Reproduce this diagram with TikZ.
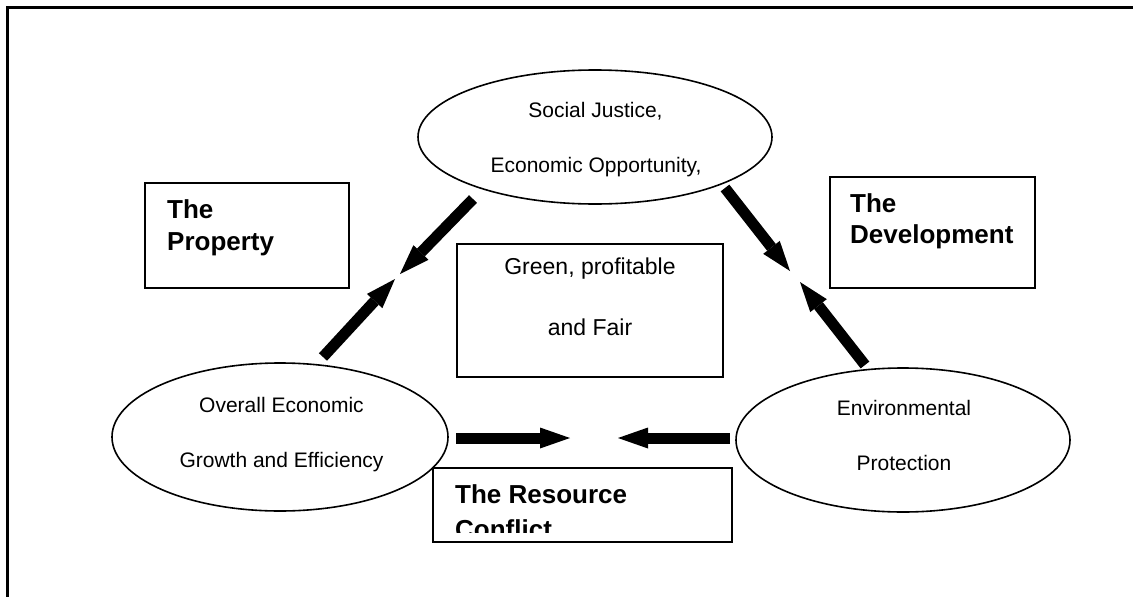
\documentclass[tikz,border=0pt]{standalone}
\usepackage{fontspec}
\setmainfont{Liberation Sans}
\usetikzlibrary{arrows.meta,shapes.geometric}
\begin{document}
\begin{tikzpicture}[x=1pt,y=-1pt,
  ell/.style={draw, ellipse, line width=1.6pt, inner sep=0pt},
  boxnode/.style={draw, rectangle, line width=1.8pt, inner sep=0pt},
  eltext/.style={inner sep=0pt, anchor=base, font=\fontsize{21}{25}\selectfont},
  cbtext/.style={inner sep=0pt, anchor=base, font=\fontsize{23}{27}\selectfont},
  bold/.style={inner sep=0pt, anchor=base west, font=\fontsize{26}{30}\selectfont\bfseries},
  blockarrow/.style={line width=11pt, -{Triangle[length=30pt,width=21pt,line width=0pt]}}
]
\useasboundingbox (0,0) rectangle (1133,597);
% frame
\draw[line width=3pt] (7.5,597) -- (7.5,7.5) -- (1133,7.5);

% ellipses
\node[ell, minimum width=354pt, minimum height=134pt] (soc) at (595,137) {};
\node[ell, minimum width=336pt, minimum height=148pt] (eco) at (280,437) {};
\node[ell, minimum width=334pt, minimum height=144pt] (env) at (903,440) {};

\node[eltext] (soc1) at (595.5,117) {Social Justice,};
\node[eltext] (soc2) at (596,172) {Economic Opportunity,};
\node[eltext] (eco1) at (281.5,412) {Overall Economic};
\node[eltext] (eco2) at (281.5,467) {Growth and Efficiency};
\node[eltext] (env1) at (904,415) {Environmental};
\node[eltext] (env2) at (904,470) {Protection};

% boxes
\node[boxnode, minimum width=204pt, minimum height=105pt] (prop) at (247,235.5) {};
\node[boxnode, minimum width=205pt, minimum height=111pt] (dev) at (932.5,232.5) {};
\node[boxnode, minimum width=266pt, minimum height=133pt] (cen) at (590,310.5) {};
\node[boxnode, minimum width=299pt, minimum height=74pt] (res) at (582.5,505) {};

\node[bold] (prop1) at (167,218) {The};
\node[bold] (prop2) at (167,250) {Property};
\node[bold] (dev1) at (850,212) {The};
\node[bold] (dev2) at (850,243) {Development};
\node[cbtext] (cen1) at (590,274) {Green, profitable};
\node[cbtext] (cen2) at (590,335) {and Fair};
\node[bold] (res1) at (455,503) {The Resource};
\begin{scope}
  \clip (433,468) rectangle (732,532);
  \node[bold] (res2) at (455,538) {Conflict};
\end{scope}

% arrow end points
\coordinate (a1s) at (473,199);  \coordinate (a1e) at (400,274);
\coordinate (a2s) at (323,357);  \coordinate (a2e) at (395,279);
\coordinate (a3s) at (725,188);  \coordinate (a3e) at (790,271);
\coordinate (a4s) at (865,365);  \coordinate (a4e) at (800,282);
\coordinate (a5s) at (456,438);  \coordinate (a5e) at (570,438);
\coordinate (a6s) at (730,438);  \coordinate (a6e) at (618,438);

\draw[blockarrow] (a1s) -- (a1e);
\draw[blockarrow] (a2s) -- (a2e);
\draw[blockarrow] (a3s) -- (a3e);
\draw[blockarrow] (a4s) -- (a4e);
\draw[blockarrow] (a5s) -- (a5e);
\draw[blockarrow] (a6s) -- (a6e);
\end{tikzpicture}
\end{document}
